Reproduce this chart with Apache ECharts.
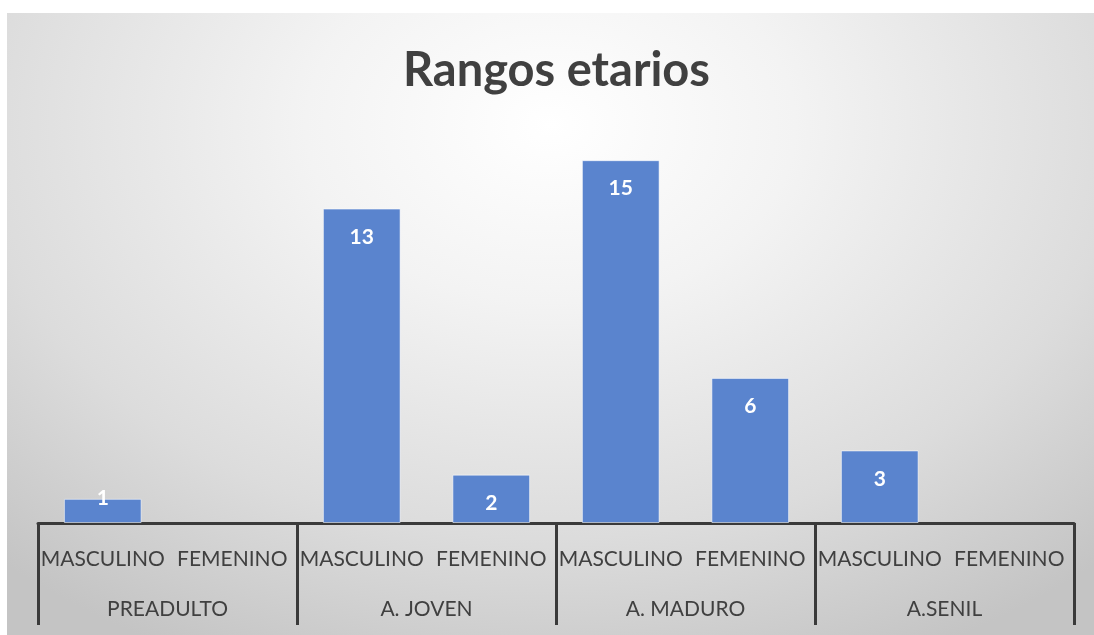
<!DOCTYPE html>
<html>
<head>
<meta charset="utf-8">
<script src="https://cdn.jsdelivr.net/npm/echarts@6/dist/echarts.min.js"></script>
<style>
  html, body { margin: 0; padding: 0; background: #ffffff; }
  #panel {
    position: absolute; left: 7px; top: 13px; width: 1087px; height: 622px;
    background: radial-gradient(ellipse 75% 95% at 50% 18%, #ffffff 0%, #f3f3f3 30%, #dcdcdc 70%, #c4c4c4 100%);
  }
  #chart { position: absolute; left: 0; top: 0; width: 1094px; height: 635px; }
</style>
</head>
<body>
<div id="panel"></div>
<div id="chart"></div>
<script>
// Sub-categories (sex) repeated under each age range
const sexes = ['MASCULINO', 'FEMENINO', 'MASCULINO', 'FEMENINO', 'MASCULINO', 'FEMENINO', 'MASCULINO', 'FEMENINO'];
// Age ranges (outer level of the axis)
const ageRanges = ['PREADULTO', 'A. JOVEN', 'A. MADURO', 'A.SENIL'];
// Counts per sex within each age range (null = no bar)
const counts = [1, null, 13, 2, 15, 6, 3, null];

const FONT = 'Lato, "Open Sans", sans-serif';
const DARK = '#404040';
const LINE = '#3a3a3a';

// Short bars cannot fit the label inside, so lift it to sit on the bar top
const barData = counts.map(v => {
  if (v !== null && v < 2) {
    return { value: v, label: { position: 'inside', offset: [0, -13] } };
  }
  return v;
});

const chart = echarts.init(document.getElementById('chart'));
chart.setOption({
  backgroundColor: 'transparent',
  animation: false,
  title: {
    text: 'Rangos etarios',
    left: 398,
    top: 42,
    textStyle: { fontFamily: FONT, fontSize: 47, fontWeight: 'bold', color: DARK }
  },
  grid: { left: 38, right: 20, top: 136, bottom: 112, containLabel: false },
  xAxis: [
    {
      type: 'category',
      data: sexes,
      position: 'bottom',
      axisLine: { show: true, lineStyle: { color: LINE, width: 3 } },
      axisTick: { show: false },
      axisLabel: { interval: 0, margin: 26, fontFamily: FONT, fontSize: 21, color: DARK }
    },
    {
      type: 'category',
      data: ageRanges,
      position: 'bottom',
      axisLine: { show: false },
      axisTick: { show: true, length: 102, interval: 0, lineStyle: { color: LINE, width: 3 } },
      axisLabel: { interval: 0, margin: 76, fontFamily: FONT, fontSize: 21, color: DARK }
    }
  ],
  yAxis: {
    type: 'value',
    min: 0,
    max: 16,
    show: false,
    splitLine: { show: false }
  },
  series: [
    {
      type: 'bar',
      xAxisIndex: 0,
      data: barData,
      barWidth: '60%',
      itemStyle: { color: '#5a84ce', borderColor: 'rgba(255,255,255,0.55)', borderWidth: 1 },
      label: {
        show: true,
        position: 'insideTop',
        distance: 18,
        color: '#ffffff',
        fontFamily: FONT,
        fontWeight: 'bold',
        fontSize: 21
      }
    }
  ]
});
</script>
</body>
</html>
